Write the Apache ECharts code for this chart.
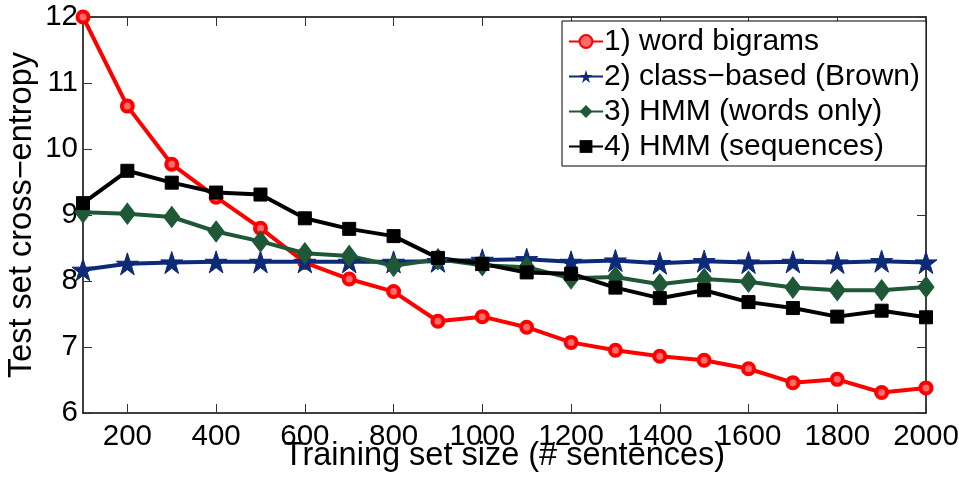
<!DOCTYPE html>
<html>
<head>
<meta charset="utf-8">
<script src="https://cdn.jsdelivr.net/npm/echarts@6/dist/echarts.min.js"></script>
<style>html,body{margin:0;padding:0;background:#fff}#c{width:959px;height:479px}</style>
</head>
<body>
<div id="c"></div>
<script>
const sizes = [100,200,300,400,500,600,700,800,900,1000,1100,1200,1300,1400,1500,1600,1700,1800,1900,2000];
const wordBigrams = [12.0,10.65,9.77,9.27,8.80,8.28,8.03,7.84,7.39,7.46,7.30,7.07,6.95,6.86,6.80,6.67,6.46,6.51,6.31,6.38];
const classBased = [8.17,8.26,8.28,8.29,8.29,8.29,8.29,8.29,8.30,8.32,8.33,8.29,8.31,8.27,8.30,8.28,8.29,8.28,8.30,8.28];
const hmmWords = [9.04,9.02,8.97,8.75,8.60,8.42,8.38,8.23,8.33,8.24,8.21,8.04,8.06,7.95,8.03,7.99,7.90,7.86,7.86,7.91];
const hmmSeq = [9.18,9.67,9.49,9.34,9.31,8.95,8.79,8.68,8.35,8.26,8.13,8.11,7.90,7.74,7.86,7.68,7.59,7.46,7.55,7.45];
const seriesNames = ['1) word bigrams','2) class\u2212based (Brown)','3) HMM (words only)','4) HMM (sequences)'];
const xTicks = [200,400,600,800,1000,1200,1400,1600,1800,2000];
const yMin = 6, yMax = 12, yStep = 1;
const xMin = 100, xMax = 2000;
const xTitle = 'Training set size (# sentences)';
const yTitle = 'Test set cross\u2212entropy';

const FONT = '"Liberation Sans", Arial, Helvetica, sans-serif';
const pair = arr => sizes.map((x,i)=>[x,arr[i]]);
const chart = echarts.init(document.getElementById('c'), null, {renderer:'canvas'});
const axisLine = {show:true, lineStyle:{color:'#000', width:1.5}};
const tickStyle = {show:true, inside:true, length:9, lineStyle:{color:'#333', width:1}};
const STAR = 'path://M50,0 L61.8,35.5 L99,35.5 L69,57.5 L80.4,93 L50,71 L19.6,93 L31,57.5 L1,35.5 L38.2,35.5 Z';
function mkSeries(name, data, color, symbol, size, itemStyle){
  return {
    name, type:'line', data:pair(data), symbol, symbolSize:size, clip:false,
    lineStyle:{color, width:4}, itemStyle:itemStyle || {color, borderColor:color},
    emphasis:{disabled:true}, animation:false
  };
}
chart.setOption({
  backgroundColor:'#fff',
  animation:false,
  textStyle:{fontFamily:FONT},
  grid:{left:83, right:33, top:17, bottom:66, show:false, containLabel:false, outerBoundsMode:'none'},
  legend:{
    left:562, top:21, orient:'vertical',
    padding:[5,6,4,6], itemGap:4, itemWidth:34, itemHeight:16,
    backgroundColor:'#fff', borderColor:'#000', borderWidth:1, borderRadius:0,
    textStyle:{fontFamily:FONT, fontSize:30, color:'#000', lineHeight:31, padding:[0,0,0,-4]},
    data:seriesNames
  },
  xAxis:[{
    type:'value', min:xMin, max:xMax, position:'bottom',
    name:xTitle, nameLocation:'middle', nameGap:27, nameMoveOverlap:false,
    nameTextStyle:{fontFamily:FONT, fontSize:32.5, color:'#000'},
    axisLine, axisTick:Object.assign({customValues:xTicks}, tickStyle),
    axisLabel:{customValues:xTicks, formatter:v=>String(v), fontFamily:FONT, fontSize:29.5, color:'#000', margin:9},
    splitLine:{show:false}
  },{
    type:'value', min:xMin, max:xMax, position:'top',
    axisLine, axisTick:Object.assign({customValues:xTicks}, tickStyle),
    axisLabel:{show:false}, splitLine:{show:false}
  }],
  yAxis:[{
    type:'value', min:yMin, max:yMax, interval:yStep, position:'left',
    name:yTitle, nameLocation:'middle', nameGap:44, nameMoveOverlap:false,
    nameTextStyle:{fontFamily:FONT, fontSize:32.5, color:'#000'},
    axisLine, axisTick:tickStyle,
    axisLabel:{formatter:v=>String(v), fontFamily:FONT, fontSize:29.5, color:'#000', margin:5},
    splitLine:{show:false}
  },{
    type:'value', min:yMin, max:yMax, interval:yStep, position:'right',
    axisLine, axisTick:tickStyle, axisLabel:{show:false}, splitLine:{show:false}
  }],
  series:[
    mkSeries(seriesNames[0], wordBigrams, '#ff0000', 'circle', 11, {color:'#ff6a6a', borderColor:'#ff0000', borderWidth:4}),
    mkSeries(seriesNames[1], classBased, '#0d2a78', STAR, 22),
    mkSeries(seriesNames[2], hmmWords, '#1e5836', 'diamond', [16,21]),
    mkSeries(seriesNames[3], hmmSeq, '#000000', 'rect', 13)
  ]
});
</script>
</body>
</html>
